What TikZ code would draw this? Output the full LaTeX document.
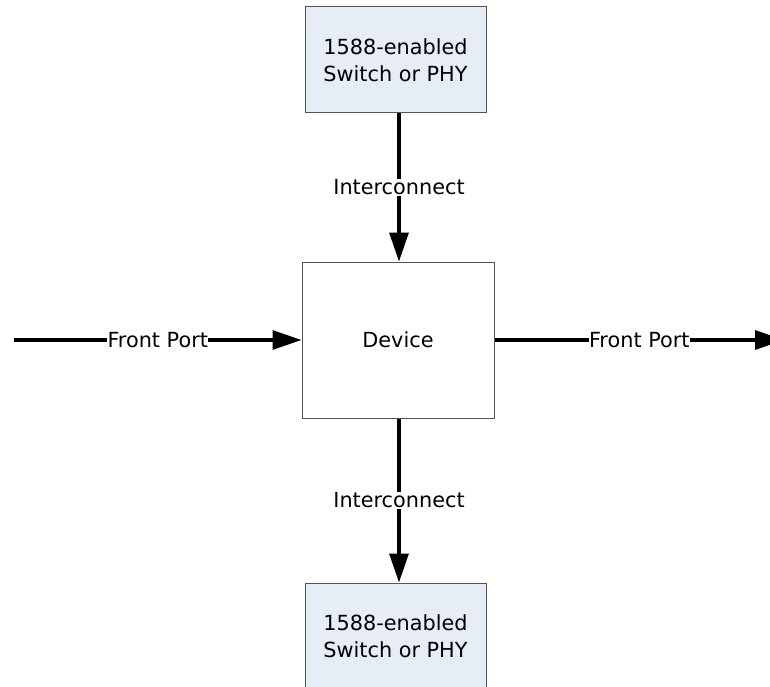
\documentclass[tikz,border=0pt]{standalone}
\usepackage{fontspec}
\setmainfont{DejaVu Sans}
\usetikzlibrary{arrows.meta}
\definecolor{boxfill}{HTML}{E7EDF7}
\definecolor{boxline}{HTML}{555555}
\begin{document}
\begin{tikzpicture}[x=1pt,y=-1pt,
  every node/.style={font=\fontsize{20.8}{27}\selectfont},
  blockbox/.style={draw=boxline, line width=1pt, minimum width=181pt, minimum height=106pt, inner sep=0pt, align=center},
  conn/.style={line width=3.2pt, -{Triangle[length=29pt,width=19pt]}},
  lbl/.style={fill=white, inner sep=0.5pt}]
\useasboundingbox (0,0) rectangle (770,687);
\clip (0,0) rectangle (770,687);
\node[blockbox, fill=boxfill] (top) at (395.5,60) {1588-enabled\\Switch or PHY};
\node[blockbox, minimum width=192pt, minimum height=156pt] (dev) at (398,340) {Device};
\node[blockbox, fill=boxfill] (bot) at (395.5,636) {1588-enabled\\Switch or PHY};
\coordinate (lin) at (14,340);
\coordinate (rout) at (784,340);
\draw[conn] (top.south -| 399,0) -- node[lbl] {Interconnect} (dev.north -| 399,0);
\draw[conn] (dev.south -| 399,0) -- node[lbl] {Interconnect} (bot.north -| 399,0);
\draw[conn] (lin) -- node[lbl] {Front Port} (dev.west);
\draw[conn] (dev.east) -- node[lbl] {Front Port} (rout);
\end{tikzpicture}
\end{document}
